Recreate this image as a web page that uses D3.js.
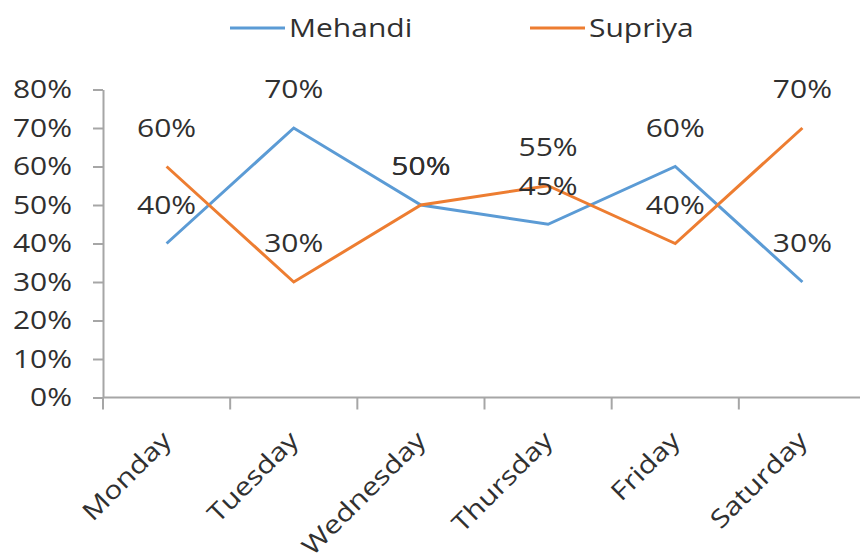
<!DOCTYPE html>
<html>
<head>
<meta charset="utf-8">
<title>Mehandi vs Supriya</title>
<script src="https://cdn.jsdelivr.net/npm/d3@7"></script>
<style>
  body { margin: 0; background: #fff; }
  text { font-family: "Open Sans", "DejaVu Sans", sans-serif; fill: #303030; font-size: 25px; }
  .axis path, .axis line { stroke: #a6a6a6; stroke-width: 2px; }
</style>
</head>
<body>
<div id="chart"></div>
<script>
var days = ["Monday", "Tuesday", "Wednesday", "Thursday", "Friday", "Saturday"];
var mehandi = [0.40, 0.70, 0.50, 0.45, 0.60, 0.30];
var supriya = [0.60, 0.30, 0.50, 0.55, 0.40, 0.70];
var yTicks = [0, 0.1, 0.2, 0.3, 0.4, 0.5, 0.6, 0.7, 0.8];

var series = [
  {name: "Mehandi", values: mehandi, color: "#5b9bd5"},
  {name: "Supriya", values: supriya, color: "#ed7d31"}
];

var width = 860, height = 560;
var stretch = " scale(1.2,1)"; // glyphs in the picture are wide

var svg = d3.select("#chart").append("svg")
  .attr("width", width)
  .attr("height", height);

var x = d3.scaleBand().domain(days).range([103, 866]);
var y = d3.scaleLinear().domain([0, 0.8]).range([397.5, 89.5]);
var fmt = d3.format(".0%");
function cx(i) { return x(days[i]) + x.bandwidth() / 2; }

// y axis
var yAxis = svg.append("g")
  .attr("class", "axis")
  .attr("transform", "translate(103,0)")
  .call(d3.axisLeft(y).tickValues(yTicks).tickFormat(fmt).tickSize(10).tickSizeOuter(0));
yAxis.selectAll("text")
  .attr("x", null)
  .attr("text-anchor", "end")
  .attr("transform", "translate(-31,0)" + stretch);

// x axis, ticks between categories
var xAxis = svg.append("g")
  .attr("class", "axis")
  .attr("transform", "translate(0,397.5)");
xAxis.append("line")
  .attr("x1", 103).attr("x2", 866);
xAxis.selectAll(".tk")
  .data(days)
  .enter().append("line")
  .attr("x1", function(d) { return x(d); })
  .attr("x2", function(d) { return x(d); })
  .attr("y1", 0).attr("y2", 12);
xAxis.selectAll(".lbl")
  .data(days)
  .enter().append("text")
  .attr("text-anchor", "end")
  .attr("transform", function(d) {
    return "translate(" + (x(d) + x.bandwidth() / 2 - 6) + ",32) rotate(-45)" + stretch;
  })
  .attr("dy", "0.7em")
  .text(function(d) { return d; });

// lines
var line = d3.line()
  .x(function(d, i) { return cx(i); })
  .y(function(d) { return y(d); });

series.forEach(function(s) {
  svg.append("path")
    .datum(s.values)
    .attr("fill", "none")
    .attr("stroke", s.color)
    .attr("stroke-width", 3)
    .attr("d", line);
});

// data labels sit one gridstep above the point
series.forEach(function(s) {
  svg.selectAll(null)
    .data(s.values)
    .enter().append("text")
    .attr("text-anchor", "middle")
    .attr("dy", "0.35em")
    .attr("transform", function(d, i) {
      return "translate(" + cx(i) + "," + (y(d) - 38.5) + ")" + stretch;
    })
    .text(function(d) { return fmt(d); });
});

// legend
var legendX = [230, 530];
var legend = svg.selectAll(".legend")
  .data(series)
  .enter().append("g")
  .attr("transform", function(d, i) { return "translate(" + legendX[i] + ",28)"; });
legend.append("line")
  .attr("x1", 0).attr("x2", 55)
  .attr("stroke", function(d) { return d.color; })
  .attr("stroke-width", 3);
legend.append("text")
  .attr("transform", "translate(59,0)" + stretch)
  .attr("dy", "0.35em")
  .text(function(d) { return d.name; });
</script>
</body>
</html>
